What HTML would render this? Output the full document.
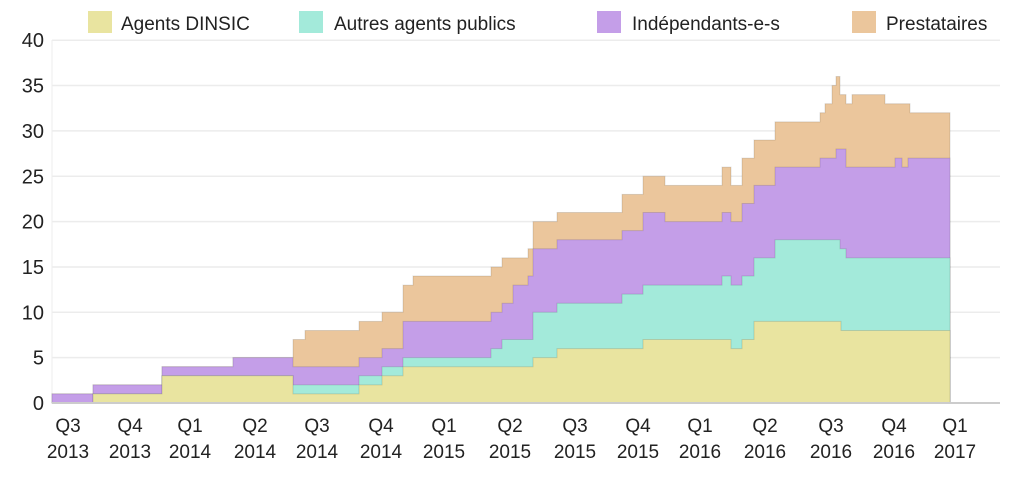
<!DOCTYPE html>
<html><head><meta charset="utf-8"><style>
body{margin:0;background:#fff;width:1029px;height:489px;overflow:hidden;font-family:"Liberation Sans",sans-serif}
</style></head><body>
<svg id="s" width="1029" height="489" xmlns="http://www.w3.org/2000/svg" font-family="Liberation Sans, sans-serif">
<g font-size="19" fill="#222">
<rect x="88" y="11" width="24" height="22" fill="#e9e4a0"/><text x="121" y="30">Agents DINSIC</text>
<rect x="299" y="11" width="24" height="22" fill="#a3eada"/><text x="334" y="30">Autres agents publics</text>
<rect x="597" y="11" width="24" height="22" fill="#c49ee8"/><text x="632" y="30">Indépendants-e-s</text>
<rect x="852" y="11" width="24" height="22" fill="#ebc69c"/><text x="886" y="30">Prestataires</text>
</g>
<g id="grid"></g>
<g id="areas"></g>
<g id="labels" font-size="19" fill="#222"></g>
</svg>
<script>
var B=403,U=9.07,XE=950;
function y(v){return B-v*U;}
var g=document.getElementById('grid'),L=document.getElementById('labels'),A=document.getElementById('areas');
var ns='http://www.w3.org/2000/svg';
function el(p,t,a,txt){var e=document.createElementNS(ns,t);for(var k in a)e.setAttribute(k,a[k]);if(txt)e.textContent=txt;p.appendChild(e);return e;}
for(var i=0;i<=8;i++){var yy=y(i*5);el(g,'line',{x1:52,x2:1000,y1:yy,y2:yy,stroke:'#ececec','stroke-width':1.5});
el(L,'text',{x:44,y:yy+7,'text-anchor':'end','font-size':20},String(i*5));}
el(g,'line',{x1:52,x2:52,y1:40,y2:403,stroke:'#eee'});
var q=[['Q3','2013',68],['Q4','2013',130],['Q1','2014',190],['Q2','2014',255],['Q3','2014',317],['Q4','2014',381],['Q1','2015',444],['Q2','2015',510],['Q3','2015',575],['Q4','2015',638],['Q1','2016',700],['Q2','2016',765],['Q3','2016',831],['Q4','2016',894],['Q1','2017',955]];
q.forEach(function(a){el(L,'text',{x:a[2],y:432,'text-anchor':'middle'},a[0]);el(L,'text',{x:a[2],y:458,'text-anchor':'middle'},a[1]);});
var yel=[[52,0],[93,1],[162,3],[293,1],[359,2],[382,3],[403,4],[533,5],[557,6],[643,7],[731,6],[742,7],[754,9],[841,8]];
var tea=[[52,0],[93,1],[162,3],[293,2],[359,3],[382,4],[403,5],[491,6],[502,7],[533,10],[557,11],[622,12],[643,13],[722,14],[731,13],[742,14],[754,16],[775,18],[840,17],[846,16]];
var pur=[[52,1],[93,2],[162,4],[233,5],[293,4],[359,5],[382,6],[403,9],[491,10],[502,11],[513,13],[528,14],[533,17],[557,18],[622,19],[643,21],[665,20],[722,21],[731,20],[742,22],[754,24],[775,26],[820,27],[836,28],[846,26],[895,27],[902,26],[908,27]];
var ora=[[52,1],[93,2],[162,4],[233,5],[293,7],[305,8],[359,9],[382,10],[403,13],[413,14],[491,15],[502,16],[528,17],[533,20],[557,21],[622,23],[643,25],[665,24],[722,26],[731,24],[742,27],[754,29],[775,31],[820,32],[825,33],[832,35],[836,36],[840,34],[846,33],[852,34],[885,33],[910,32]];
function path(s){var d='M'+s[0][0]+','+y(s[0][1]);for(var i=0;i<s.length;i++){var x2=i+1<s.length?s[i+1][0]:XE;d+=' H'+x2;if(i+1<s.length)d+=' V'+y(s[i+1][1]);}
d+=' V'+B+' H52 Z';return d;}
[[ora,'#ebc69c'],[pur,'#c49ee8'],[tea,'#a3eada'],[yel,'#e9e4a0']].forEach(function(p){el(A,'path',{d:path(p[0]),fill:p[1],stroke:'rgba(0,0,0,0.12)','stroke-width':1});});
el(A,'line',{x1:52,x2:1000,y1:B,y2:B,stroke:'#ccc','stroke-width':2});
</script>
</body></html>
